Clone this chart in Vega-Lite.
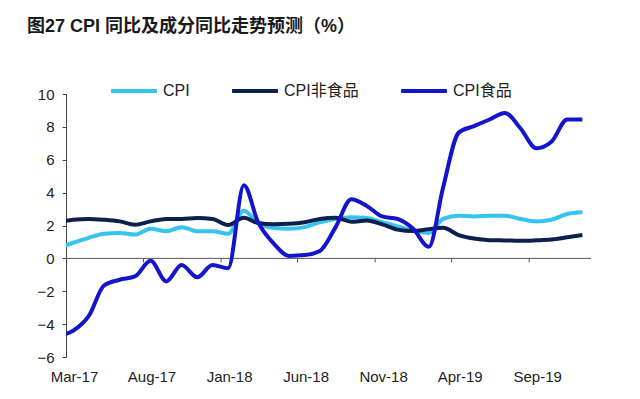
{
  "$schema": "https://vega.github.io/schema/vega-lite/v6.json",
  "autosize": "none",
  "width": 525,
  "height": 263,
  "padding": {"left": 66, "top": 94, "right": 49, "bottom": 42},
  "background": "white",
  "title": {
    "text": "图27 CPI 同比及成分同比走势预测（%）",
    "anchor": "start",
    "frame": "group",
    "dx": -39,
    "offset": 30,
    "font": "Liberation Sans, Noto Sans CJK SC",
    "fontSize": 18,
    "fontWeight": "bold",
    "color": "#1a1a1a"
  },
  "config": {
    "view": {"stroke": null},
    "font": "Liberation Sans, Noto Sans CJK SC",
    "axis": {"labelOverlap": false},
    "axisY": {"labelOverlap": false, "tickCount": 9, "values": [-6, -4, -2, 0, 2, 4, 6, 8, 10]}
  },
  "layer": [
    {
      "data": {"values": [{"z": 0}]},
      "mark": {"type": "rule", "color": "#555555", "strokeWidth": 1},
      "encoding": {"y": {
        "datum": 0, "type": "quantitative",
        "scale": {"domain": [-6, 10], "nice": false, "zero": false},
        "axis": {
          "title": null,
          "values": [-6, -4, -2, 0, 2, 4, 6, 8, 10],
          "tickCount": 9,
          "labelOverlap": false, "labelFlush": false,
          "grid": false, "domainColor": "#444444", "tickColor": "#444444",
          "tickSize": 4, "labelPadding": 8,
          "labelFont": "Liberation Sans", "labelFontSize": 15, "labelColor": "#222222"
        }
      }}
    },
    {
      "data": {"values": [
        {"t": "2017-08-01"}, {"t": "2018-01-01"}, {"t": "2018-06-01"},
        {"t": "2018-11-01"}, {"t": "2019-04-01"}, {"t": "2019-09-01"}
      ]},
      "mark": {"type": "rule", "color": "#555555", "strokeWidth": 1},
      "encoding": {
        "x": {"field": "t", "type": "temporal"},
        "y": {"datum": 0, "type": "quantitative"},
        "y2": {"datum": -0.25}
      }
    },
    {
      "data": {"values": [
        {"d": "2017-02-15", "CPI": 0.65, "CPI非食品": 2.2, "CPI食品": -4.7},
        {"d": "2017-03-15", "CPI": 0.95, "CPI非食品": 2.35, "CPI食品": -4.4},
        {"d": "2017-04-15", "CPI": 1.25, "CPI非食品": 2.4, "CPI食品": -3.5},
        {"d": "2017-05-15", "CPI": 1.5, "CPI非食品": 2.35, "CPI食品": -1.65},
        {"d": "2017-06-15", "CPI": 1.55, "CPI非食品": 2.25, "CPI食品": -1.3},
        {"d": "2017-07-15", "CPI": 1.45, "CPI非食品": 2.05, "CPI食品": -1.1},
        {"d": "2017-08-15", "CPI": 1.8, "CPI非食品": 2.25, "CPI食品": -0.15},
        {"d": "2017-09-15", "CPI": 1.65, "CPI非食品": 2.4, "CPI食品": -1.4},
        {"d": "2017-10-15", "CPI": 1.9, "CPI非食品": 2.4, "CPI食品": -0.4},
        {"d": "2017-11-15", "CPI": 1.65, "CPI非食品": 2.45, "CPI食品": -1.15},
        {"d": "2017-12-15", "CPI": 1.65, "CPI非食品": 2.4, "CPI食品": -0.4},
        {"d": "2018-01-15", "CPI": 1.5, "CPI非食品": 2.03, "CPI食品": -0.6},
        {"d": "2018-02-15", "CPI": 2.9, "CPI非食品": 2.47, "CPI食品": 4.45},
        {"d": "2018-03-15", "CPI": 2.15, "CPI非食品": 2.15, "CPI食品": 2.2},
        {"d": "2018-04-15", "CPI": 1.85, "CPI非食品": 2.07, "CPI食品": 0.9},
        {"d": "2018-05-15", "CPI": 1.8, "CPI非食品": 2.1, "CPI食品": 0.15},
        {"d": "2018-06-15", "CPI": 1.9, "CPI非食品": 2.2, "CPI食品": 0.2},
        {"d": "2018-07-15", "CPI": 2.2, "CPI非食品": 2.4, "CPI食品": 0.45},
        {"d": "2018-08-15", "CPI": 2.4, "CPI非食品": 2.47, "CPI食品": 1.9},
        {"d": "2018-09-15", "CPI": 2.5, "CPI非食品": 2.23, "CPI食品": 3.6},
        {"d": "2018-10-15", "CPI": 2.45, "CPI非食品": 2.3, "CPI食品": 3.2},
        {"d": "2018-11-15", "CPI": 2.2, "CPI非食品": 2.07, "CPI食品": 2.55},
        {"d": "2018-12-15", "CPI": 1.95, "CPI非食品": 1.75, "CPI食品": 2.4},
        {"d": "2019-01-15", "CPI": 1.7, "CPI非食品": 1.66, "CPI食品": 1.8},
        {"d": "2019-02-15", "CPI": 1.55, "CPI非食品": 1.78, "CPI食品": 0.7},
        {"d": "2019-03-15", "CPI": 2.4, "CPI非食品": 1.86, "CPI食品": 4.3},
        {"d": "2019-04-15", "CPI": 2.6, "CPI非食品": 1.42, "CPI食品": 7.65},
        {"d": "2019-05-15", "CPI": 2.55, "CPI非食品": 1.21, "CPI食品": 8.05},
        {"d": "2019-06-15", "CPI": 2.6, "CPI非食品": 1.11, "CPI食品": 8.45},
        {"d": "2019-07-15", "CPI": 2.6, "CPI非食品": 1.09, "CPI食品": 8.85},
        {"d": "2019-08-15", "CPI": 2.4, "CPI非食品": 1.07, "CPI食品": 7.9},
        {"d": "2019-09-15", "CPI": 2.25, "CPI非食品": 1.1, "CPI食品": 6.7},
        {"d": "2019-10-15", "CPI": 2.35, "CPI非食品": 1.15, "CPI食品": 7.1},
        {"d": "2019-11-15", "CPI": 2.7, "CPI非食品": 1.28, "CPI食品": 8.45},
        {"d": "2019-12-15", "CPI": 2.8, "CPI非食品": 1.42, "CPI食品": 8.45}
      ]},
      "transform": [{"fold": ["CPI", "CPI非食品", "CPI食品"], "as": ["series", "value"]}],
      "mark": {"type": "line", "interpolate": "monotone", "strokeWidth": 4, "clip": true},
      "encoding": {
        "x": {
          "field": "d", "type": "temporal", "title": null,
          "scale": {"type": "utc", "domain": [{"year": 2017, "month": 3, "date": 1, "utc": true}, {"year": 2020, "month": 1, "date": 1, "utc": true}]},
          "axis": {
            "values": [
              {"year": 2017, "month": 3, "date": 1, "utc": true},
              {"year": 2017, "month": 8, "date": 1, "utc": true},
              {"year": 2018, "month": 1, "date": 1, "utc": true},
              {"year": 2018, "month": 6, "date": 1, "utc": true},
              {"year": 2018, "month": 11, "date": 1, "utc": true},
              {"year": 2019, "month": 4, "date": 1, "utc": true},
              {"year": 2019, "month": 9, "date": 1, "utc": true}
            ],
            "format": "%b-%y",
            "domain": false, "ticks": false, "grid": false,
            "labelFlush": false, "labelOverlap": false,
            "labelOffset": 8, "labelPadding": 12,
            "labelFont": "Liberation Sans", "labelFontSize": 15, "labelColor": "#222222"
          }
        },
        "y": {
          "field": "value", "type": "quantitative", "title": null
        },
        "color": {
          "field": "series", "type": "nominal", "title": null,
          "scale": {"domain": ["CPI", "CPI非食品", "CPI食品"], "range": ["#35C3F0", "#0C1F4D", "#1414CC"]},
          "legend": {
            "orient": "none", "legendX": 43, "legendY": -28,
            "direction": "horizontal",
            "symbolType": "stroke", "symbolSize": 2100, "symbolStrokeWidth": 4,
            "columnPadding": 34, "labelOffset": 4,
            "labelFont": "Liberation Sans, Noto Sans CJK SC", "labelFontSize": 16, "labelColor": "#222222"
          }
        }
      }
    }
  ]
}
